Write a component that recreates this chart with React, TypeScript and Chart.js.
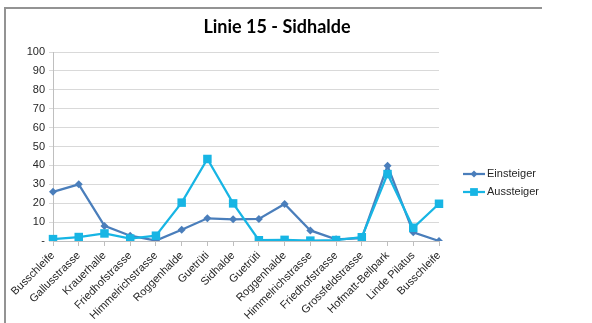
import React, { useEffect, useRef } from "react";
import { Chart, registerables } from "chart.js";

Chart.register(...registerables);

const TITLE = "Linie 15 - Sidhalde";
const categories = [
  "Busschleife",
  "Gallusstrasse",
  "Krauerhalle",
  "Friedhofstrasse",
  "Himmelrichstrasse",
  "Roggenhalde",
  "Guetrüti",
  "Sidhalde",
  "Guetrüti",
  "Roggenhalde",
  "Himmelrichstrasse",
  "Friedhofstrasse",
  "Grossfeldstrasse",
  "Hofmatt-Bellpark",
  "Linde Pilatus",
  "Busschleife",
];
const einsteiger = [26, 30, 8, 2.8, 0.2, 6, 12, 11.5, 11.7, 19.6, 5.6, 0.9, 1.5, 39.8, 4.6, 0];
const aussteiger = [1, 2.1, 4, 1.3, 2.8, 20.3, 43.4, 19.9, 0.4, 0.6, 0.2, 0.5, 2, 35.4, 7, 19.7];
const seriesNames = ["Einsteiger", "Aussteiger"];
const yTicks = { min: 0, max: 100, step: 10 };

const C_EIN = "#4a7ebb";
const C_AUS = "#17b5e4";

export default function App() {
  const ref = useRef<HTMLCanvasElement | null>(null);

  useEffect(() => {
    if (!ref.current) return;
    const overlay = {
      id: "overlay",
      afterDraw(chart: any) {
        const ctx = chart.ctx;
        ctx.save();
        ctx.fillStyle = "#000";
        ctx.font = "bold 18px Lato, 'Liberation Sans', sans-serif";
        ctx.textAlign = "center";
        ctx.textBaseline = "middle";
        ctx.fillText(TITLE, 277, 27);

        const items = [
          { name: seriesNames[0], color: C_EIN, style: "rectRot", r: 3.5, y: 174 },
          { name: seriesNames[1], color: C_AUS, style: "rect", r: 5.5, y: 192 },
        ];
        ctx.font = "11px 'Liberation Sans', Arial, sans-serif";
        ctx.textAlign = "left";
        for (const it of items) {
          ctx.strokeStyle = it.color;
          ctx.lineWidth = 2.25;
          ctx.beginPath();
          ctx.moveTo(463, it.y);
          ctx.lineTo(485, it.y);
          ctx.stroke();
          ctx.fillStyle = it.color;
          const s = Math.SQRT1_2 * it.r;
          ctx.beginPath();
          if (it.style === "rect") {
            ctx.rect(474 - s, it.y - s, 2 * s, 2 * s);
          } else {
            ctx.moveTo(474 - it.r, it.y);
            ctx.lineTo(474, it.y - it.r);
            ctx.lineTo(474 + it.r, it.y);
            ctx.lineTo(474, it.y + it.r);
            ctx.closePath();
          }
          ctx.fill();
          ctx.fillStyle = "#262626";
          ctx.fillText(it.name, 487, it.y);
        }
        ctx.restore();
      },
    };

    const chart = new Chart(ref.current, {
      type: "line",
      data: {
        labels: categories,
        datasets: [
          {
            label: seriesNames[0],
            data: einsteiger,
            borderColor: C_EIN,
            backgroundColor: C_EIN,
            borderWidth: 2.25,
            pointStyle: "rectRot",
            pointRadius: 4,
            pointBorderWidth: 0,
            order: 1,
          },
          {
            label: seriesNames[1],
            data: aussteiger,
            borderColor: C_AUS,
            backgroundColor: C_AUS,
            borderWidth: 2.25,
            pointStyle: "rect",
            pointRadius: 6,
            pointBorderWidth: 0,
            order: 0,
          },
        ],
      },
      options: {
        animation: false,
        responsive: false,
        devicePixelRatio: 1,
        layout: { padding: { top: 52, left: 0, right: 153, bottom: 0 } },
        plugins: {
          legend: { display: false },
          title: { display: false },
          tooltip: { enabled: false },
        },
        scales: {
          x: {
            offset: false,
            grid: {
              display: true,
              drawOnChartArea: false,
              drawTicks: true,
              tickLength: 5,
              color: "#bfbfbf",
            },
            border: { color: "#bfbfbf", width: 1 },
            ticks: {
              autoSkip: false,
              maxRotation: 45,
              minRotation: 45,
              padding: 3,
              color: "#262626",
              font: { family: "'Liberation Sans', Arial, sans-serif", size: 11 },
            },
            afterFit(scale: any) {
              scale.height = 82;
            },
          },
          y: {
            min: yTicks.min,
            max: yTicks.max,
            grid: { color: "#d9d9d9", tickLength: 4, lineWidth: 1 },
            border: { color: "#bfbfbf", width: 1 },
            ticks: {
              stepSize: yTicks.step,
              padding: 4,
              color: "#262626",
              font: { family: "'Liberation Sans', Arial, sans-serif", size: 11 },
              callback: (v: any) => (v === 0 ? "-" : String(v)),
            },
            afterFit(scale: any) {
              scale.width = 53;
            },
          },
        },
      },
      plugins: [overlay],
    });
    return () => chart.destroy();
  }, []);

  return (
    <div
      style={{
        position: "fixed",
        left: 0,
        top: 0,
        width: 592,
        height: 323,
        background: "#fff",
        overflow: "hidden",
      }}
    >
      <div
        style={{
          position: "absolute",
          left: 4,
          top: 7,
          width: 536,
          height: 320,
          borderTop: "2px solid #939393",
          borderLeft: "2px solid #939393",
        }}
      />
      <canvas ref={ref} width={592} height={323} style={{ position: "absolute", left: 0, top: 0 }} />
    </div>
  );
}
